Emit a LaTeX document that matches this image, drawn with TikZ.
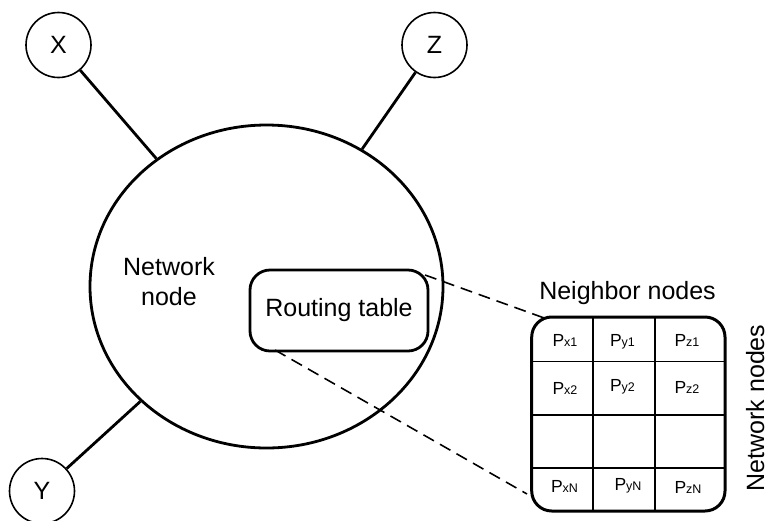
\documentclass[tikz,border=0pt]{standalone}
\usepackage{fontspec}
\setmainfont{Liberation Sans}
\usetikzlibrary{shapes.geometric}

% P with a small index, as used in the routing table cells
\newcommand\pidx[1]{{\fontsize{17.5}{18}\selectfont P}{\fontsize{12.5}{13}\selectfont #1}}

\begin{document}
\begin{tikzpicture}[x=1pt, y=-1pt,
  every node/.style={font=\fontsize{25}{30}\selectfont},
  peer/.style={draw, circle, minimum size=65pt, inner sep=0pt, line width=1.6pt},
  hub/.style={draw, ellipse, minimum width=353pt, minimum height=323pt, inner sep=0pt, line width=2.8pt},
  link/.style={line width=2.8pt},
  tablebox/.style={draw, rounded corners=20pt, line width=2.8pt, inner sep=0pt},
  gridline/.style={line width=1.5pt},
  zoomline/.style={line width=1.6pt, dash pattern=on 12pt off 7pt},
  cell/.style={inner sep=0pt, anchor=base}
]
\useasboundingbox (0,0) rectangle (770,520);

% main network node and its neighbours
\node[hub] (N) at (266.5,286.5) {};
\node[peer] (X) at (58.5,45) {X};
\node[peer] (Z) at (434.5,45) {Z};
\node[peer] (Y) at (42,491) {Y};
\draw[link] (X) -- (N);
\draw[link] (Z) -- (N);
\draw[link] (Y) -- (N);

\node[align=center, inner sep=0pt] (nlabel) at (169,282) {Network\\node};
\node[tablebox, minimum width=178pt, minimum height=81pt] (RT) at (339,310.5) {Routing table};

% enlarged routing table
\node[tablebox, line width=3pt, minimum width=193.3pt, minimum height=194pt] (G) at (628.35,414) {};
\draw[gridline] (593,317) -- (593,511);
\draw[gridline] (655,317) -- (655,511);
\draw[gridline] (531.7,361.7) -- (725,361.7);
\draw[gridline] (531.7,415) -- (725,415);
\draw[gridline] (531.7,468) -- (725,468);

\node[cell] (px1) at (565,346.5) {\pidx{x1}};
\node[cell] (py1) at (622.5,346.5) {\pidx{y1}};
\node[cell] (pz1) at (687,346.5) {\pidx{z1}};
\node[cell] (px2) at (565,394) {\pidx{x2}};
\node[cell] (py2) at (622.5,391.5) {\pidx{y2}};
\node[cell] (pz2) at (687,393.5) {\pidx{z2}};
\node[cell] (pxN) at (564.5,492.5) {\pidx{xN}};
\node[cell] (pyN) at (628,490) {\pidx{yN}};
\node[cell] (pzN) at (688,493) {\pidx{zN}};

\node[anchor=base, inner sep=0pt] (nbr) at (627.5,299) {Neighbor nodes};
\node[anchor=base, rotate=90, inner sep=0pt] (nwn) at (764,408) {Network nodes};

% dashed zoom guides
\coordinate (rtA) at (425,275);
\coordinate (rtB) at (275,350);
\coordinate (gA) at (547,319);
\coordinate (gB) at (527,494);
\draw[zoomline] (rtA) -- (gA);
\draw[zoomline] (rtB) -- (gB);
\end{tikzpicture}
\end{document}
